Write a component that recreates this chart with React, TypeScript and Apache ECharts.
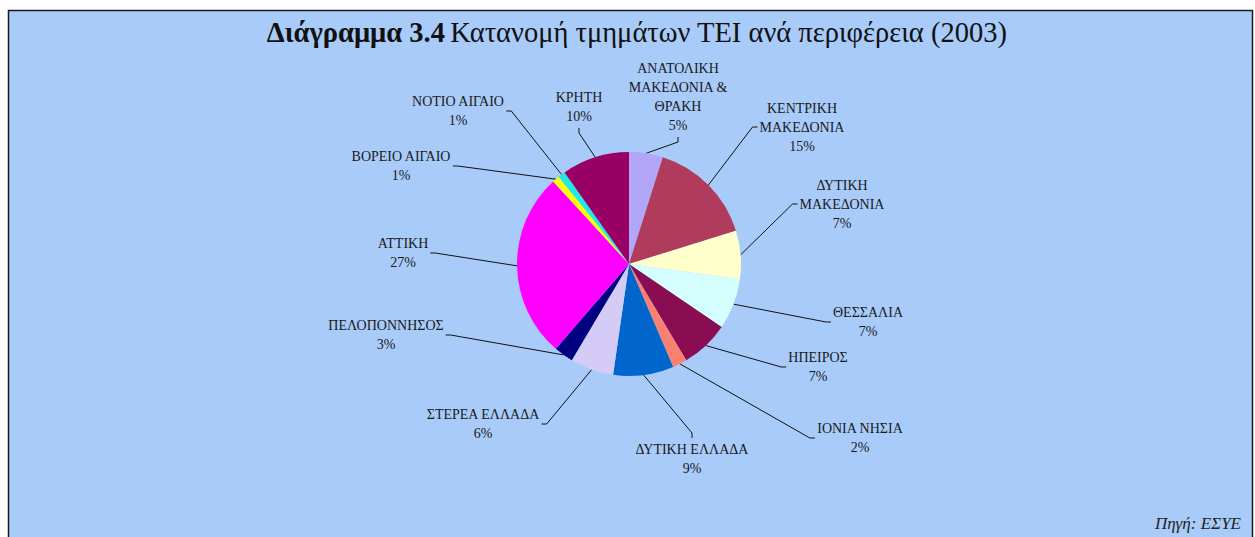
import React, { useEffect, useRef } from 'react';
import * as echarts from 'echarts';

// ---- data ----
const categories = [
  'ΑΝΑΤΟΛΙΚΗ\nΜΑΚΕΔΟΝΙΑ &\nΘΡΑΚΗ',
  'ΚΕΝΤΡΙΚΗ\nΜΑΚΕΔΟΝΙΑ',
  'ΔΥΤΙΚΗ\nΜΑΚΕΔΟΝΙΑ',
  'ΘΕΣΣΑΛΙΑ',
  'ΗΠΕΙΡΟΣ',
  'ΙΟΝΙΑ ΝΗΣΙΑ',
  'ΔΥΤΙΚΗ ΕΛΛΑΔΑ',
  'ΣΤΕΡΕΑ ΕΛΛΑΔΑ',
  'ΠΕΛΟΠΟΝΝΗΣΟΣ',
  'ΑΤΤΙΚΗ',
  'ΒΟΡΕΙΟ ΑΙΓΑΙΟ',
  'ΝΟΤΙΟ ΑΙΓΑΙΟ',
  'ΚΡΗΤΗ',
];
// number of TEI departments per region
const departments = [14, 44, 20, 21, 20, 6, 25, 18, 8, 77, 3, 3, 28];

const titleBold = 'Διάγραμμα 3.4';
const titleRest = 'Κατανομή τμημάτων ΤΕΙ ανά περιφέρεια (2003)';
const sourceText = 'Πηγή: ΕΣΥΕ';

// ---- style / layout ----
const sliceColors = [
  '#B3A5F7', '#B13B5C', '#FFFFCC', '#D5FFFF', '#8A0C52', '#FA8072',
  '#0066CC', '#D4CBF7', '#000080', '#FF00FF', '#FFFF00', '#22E8E8', '#990066',
];
const PIE_CX = 629;
const PIE_CY = 264;
const PIE_R = 112;
// label block centres (px)
const labelCentres: [number, number][] = [
  [678, 97], [802, 127], [842, 204], [868, 322], [818, 367], [860, 438],
  [692, 459], [483, 424], [386, 335], [403, 253], [401, 166], [458, 111], [579, 107],
];
const FONT = '"Liberation Serif", "DejaVu Serif", serif';

export default function App() {
  const ref = useRef<HTMLDivElement>(null);

  useEffect(() => {
    if (!ref.current) return;
    const chart = echarts.init(ref.current, undefined, { renderer: 'svg' });
    const total = departments.reduce((a, b) => a + b, 0);
    const midAngles: number[] = [];
    let cum = 0;
    departments.forEach((v) => {
      midAngles.push(((cum + v / 2) / total) * Math.PI * 2);
      cum += v;
    });

    const option: any = {
      animation: false,
      backgroundColor: '#ffffff',
      title: {
        text: `{b|${titleBold}} {n|${titleRest}}`,
        left: 632,
        textAlign: 'center',
        top: 13,
        textStyle: {
          rich: {
            b: { fontFamily: FONT, fontSize: 28.5, fontWeight: 'bold', color: '#111' },
            n: { fontFamily: FONT, fontSize: 28.5, fontWeight: 'normal', color: '#111' },
          },
        },
      },
      graphic: [
        {
          type: 'rect',
          z: -10,
          shape: { x: 8.5, y: 10.5, width: 1244, height: 540 },
          style: { fill: '#A9CBF9', stroke: '#1a1a1a', lineWidth: 1.5 },
          silent: true,
        },
        {
          type: 'text',
          x: 1241,
          y: 523,
          style: {
            text: sourceText,
            fontFamily: FONT,
            fontSize: 17,
            fontStyle: 'italic',
            fill: '#222',
            align: 'right',
            verticalAlign: 'middle',
          },
        },
      ],
      series: [
        {
          type: 'pie',
          center: [PIE_CX, PIE_CY],
          radius: PIE_R,
          startAngle: 90,
          clockwise: true,
          avoidLabelOverlap: false,
          itemStyle: { borderWidth: 0 },
          emphasis: { disabled: true },
          label: {
            show: true,
            position: 'outside',
            fontFamily: FONT,
            fontSize: 14,
            lineHeight: 19,
            color: '#1a1a1a',
            align: 'center',
            formatter: (p: any) => `${p.name}\n${Math.round((p.value / total) * 100)}%`,
          },
          labelLine: {
            show: true,
            length: 10,
            length2: 10,
            smooth: false,
            lineStyle: { color: '#111', width: 1 },
          },
          labelLayout: (params: any) => {
            const i = params.dataIndex;
            const [x, y] = labelCentres[i];
            const w = params.labelRect.width;
            const h = params.labelRect.height;
            const a = midAngles[i];
            const sx = PIE_CX + PIE_R * Math.sin(a);
            const sy = PIE_CY - PIE_R * Math.cos(a);
            const dx = x - sx;
            const dy = y - sy;
            let ax: number, ay: number, bx: number, by: number;
            const gap = 2;
            const stub = 5;
            if (Math.abs(dy) > Math.abs(dx)) {
              ax = x;
              if (dy < 0) {
                ay = y + h / 2 + gap;
                by = ay + stub;
              } else {
                ay = y - h / 2 - gap;
                by = ay - stub;
              }
              bx = ax;
            } else {
              ay = y;
              if (dx > 0) {
                ax = x - w / 2 - gap;
                bx = ax - stub;
              } else {
                ax = x + w / 2 + gap;
                bx = ax + stub;
              }
              by = ay;
            }
            return {
              x,
              y,
              align: 'center',
              verticalAlign: 'middle',
              labelLinePoints: [
                [sx, sy],
                [bx, by],
                [ax, ay],
              ],
            };
          },
          data: categories.map((name, i) => ({
            name,
            value: departments[i],
            itemStyle: { color: sliceColors[i] },
          })),
        },
      ],
    };
    chart.setOption(option);
    return () => chart.dispose();
  }, []);

  return (
    <div
      ref={ref}
      style={{ position: 'fixed', left: 0, top: 0, width: 1255, height: 537 }}
    />
  );
}
